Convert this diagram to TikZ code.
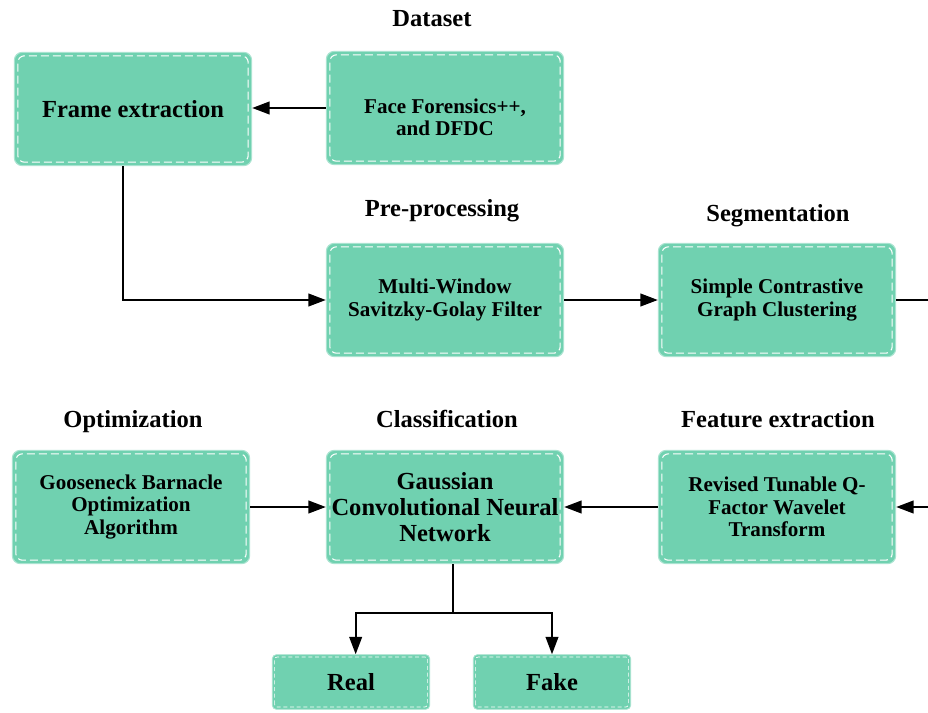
\documentclass[tikz,border=0pt]{standalone}
\usepackage{fontspec}
\setmainfont{Liberation Serif}
\usetikzlibrary{arrows.meta}
\definecolor{boxteal}{RGB}{112,209,176}
\tikzset{
  stage/.style={draw=boxteal!60!white, line width=0.8pt, fill=boxteal,
    rounded corners=6pt, minimum width=178pt, minimum height=85pt,
    inner sep=0pt, align=center, font=\bfseries\fontsize{15.8}{16.8}\selectfont},
  bigstage/.style={stage, font=\bfseries\fontsize{18.4}{19.5}\selectfont},
  outcome/.style={draw=boxteal!60!white, line width=0.6pt, fill=boxteal,
    rounded corners=3pt, minimum width=118pt, minimum height=41pt,
    inner sep=0pt, font=\bfseries\fontsize{18.4}{19.5}\selectfont},
  heading/.style={anchor=base, font=\bfseries\fontsize{18.4}{19.5}\selectfont},
  boxtext/.style={align=center, inner sep=0pt, font=\bfseries\fontsize{15.8}{16.8}\selectfont},
  innerdash/.style={draw=white, line width=0.8pt, dash pattern=on 6pt off 3pt, rounded corners=5pt},
  smalldash/.style={draw=white, line width=0.5pt, dash pattern=on 3pt off 2pt, rounded corners=2pt},
  link/.style={line width=1.3pt},
  flow/.style={link, -{Triangle[length=13pt,width=9.5pt]}}
}
\begin{document}
\begin{tikzpicture}[x=0.75pt,y=-0.75pt]
\useasboundingbox (0,0) rectangle (928,713);

% headings over the stages
\node[heading] (hdata) at (432,27) {Dataset};
\node[heading] (hpre) at (442,216) {Pre-processing};
\node[heading] (hseg) at (778,221) {Segmentation};
\node[heading] (hopt) at (133,427) {Optimization};
\node[heading] (hcls) at (447,427) {Classification};
\node[heading] (hfeat) at (778,427) {Feature extraction};

% stages
\node[bigstage] (frame) at (133,109) {Frame extraction};
\node[stage] (data) at (445,108) {};
\node[boxtext] (datatext) at (445,117) {Face Forensics++,\\and DFDC};
\node[stage] (pre) at (445,300) {Multi-Window\\Savitzky-Golay Filter};
\node[stage] (seg) at (777,300) {Simple Contrastive\\Graph Clustering};
\node[stage] (opt) at (131,507) {Gooseneck Barnacle\\Optimization\\Algorithm};
\node[bigstage] (cls) at (445,507) {Gaussian\\Convolutional Neural\\Network};
\node[stage] (feat) at (777,507) {Revised Tunable Q-\\Factor Wavelet\\Transform};

% outputs
\node[outcome] (real) at (351,682) {Real};
\node[outcome] (fake) at (552,682) {Fake};

% dashed inner borders
\foreach \n in {frame,data,pre,seg,opt,cls,feat}
\draw[innerdash] ([shift={(3pt,3pt)}]\n.south west) rectangle ([shift={(-3pt,-3pt)}]\n.north east);
\foreach \n in {real,fake}
\draw[smalldash] ([shift={(2pt,2pt)}]\n.south west) rectangle ([shift={(-2pt,-2pt)}]\n.north east);

% loose ends at the right border
\coordinate (segout) at (928,300);
\coordinate (featin) at (928,507);
\coordinate (split) at (453,613);

% connectors
\draw[flow] (data.west) -- (data.west -| frame.east);
\draw[flow] ([xshift=-7.5pt]frame.south) |- (pre.west);
\draw[flow] (pre.east) -- (seg.west);
\draw[link] (seg.east) -- (segout);
\draw[flow] (featin) -- (feat.east);
\draw[flow] (feat.west) -- (cls.east);
\draw[flow] (opt.east) -- (cls.west);
\draw[link] (cls.south -| split) -- (split);
\draw[flow] (split) -| ([xshift=3.5pt]real.north);
\draw[flow] (split) -| (fake.north);

\end{tikzpicture}
\end{document}
